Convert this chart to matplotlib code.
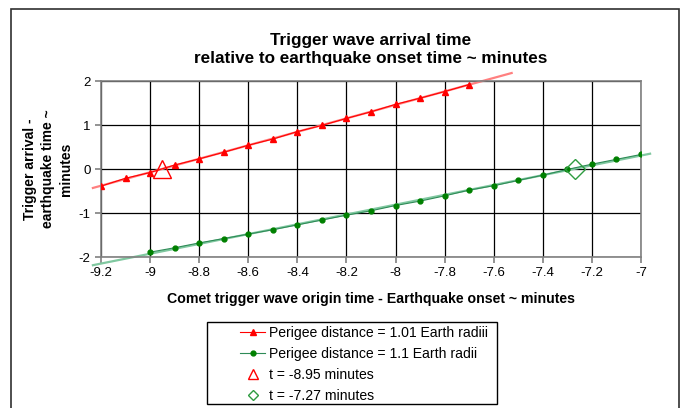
import matplotlib.pyplot as plt
import numpy as np
from matplotlib.patches import Rectangle
from matplotlib.lines import Line2D

plt.rcParams['font.family'] = ['Liberation Sans', 'DejaVu Sans']
plt.rcParams['axes.unicode_minus'] = False

x_red = [-9.2, -9.1, -9.0, -8.9, -8.8, -8.7, -8.6, -8.5, -8.4, -8.3, -8.2, -8.1,
         -8.0, -7.9, -7.8, -7.7]
y_red = [-0.39, -0.21, -0.08, 0.09, 0.23, 0.38, 0.54, 0.68, 0.85, 0.99, 1.15, 1.30,
         1.47, 1.61, 1.76, 1.92]

x_green = [-9.0, -8.9, -8.8, -8.7, -8.6, -8.5, -8.4, -8.3, -8.2, -8.1, -8.0, -7.9,
           -7.8, -7.7, -7.6, -7.5, -7.4, -7.3, -7.2, -7.1, -7.0]
y_green = [-1.89, -1.79, -1.68, -1.58, -1.48, -1.38, -1.27, -1.16, -1.05, -0.95,
           -0.83, -0.73, -0.61, -0.48, -0.38, -0.26, -0.14, -0.01, 0.11, 0.22, 0.33]

t_red = -8.95
t_green = -7.27

red_trend_range = [-9.233, -7.527]
green_trend_range = [-9.233, -6.963]

xticks = [-9.2, -9.0, -8.8, -8.6, -8.4, -8.2, -8.0, -7.8, -7.6, -7.4, -7.2, -7.0]
xtick_labels = ['-9.2', '-9', '-8.8', '-8.6', '-8.4', '-8.2', '-8', '-7.8', '-7.6',
                '-7.4', '-7.2', '-7']
yticks = [-2, -1, 0, 1, 2]

labels = ['Perigee distance = 1.01 Earth radiii', 'Perigee distance = 1.1 Earth radii',
          't = -8.95 minutes', 't = -7.27 minutes']

W, H = 683, 408
fig = plt.figure(figsize=(W / 100, H / 100), dpi=100)
fig.patches.append(Rectangle((11 / W, -0.01), (679 - 11) / W, 1 - 9 / H + 0.01,
                             transform=fig.transFigure, fill=False,
                             edgecolor='#303030', linewidth=1.2))

ax = fig.add_axes([101 / W, 1 - 257 / H, (641 - 101) / W, (257 - 81) / H])
ax.set_xlim(-9.2, -7.0)
ax.set_ylim(-2, 2)

# trend lines, drawn past the plot area like excel does
for xs, ys, rng, col in [(x_red, y_red, red_trend_range, '#ff8080'),
                         (x_green, y_green, green_trend_range, '#80c8a0')]:
    k, b = np.polyfit(xs, ys, 1)
    xr = np.array(rng)
    ax.plot(xr, k * xr + b, color=col, linewidth=1.6, clip_on=False, zorder=2)

ax.plot(x_red, y_red, color='red', linewidth=0.8, marker='^', markersize=5, zorder=3)
ax.plot(x_green, y_green, color='#2e8b57', linewidth=0.8, marker='o', markersize=3.5,
        markerfacecolor='green', markeredgecolor='green', zorder=3)
ax.plot([t_red], [0], linestyle='none', marker='^', markersize=13,
        markerfacecolor='none', markeredgecolor='red', markeredgewidth=1, zorder=4)
ax.plot([t_green], [0], linestyle='none', marker='D', markersize=10,
        markerfacecolor='none', markeredgecolor='#2e9b40', markeredgewidth=1, zorder=4)

ax.set_xticks(xticks)
ax.set_xticklabels(xtick_labels)
ax.set_yticks(yticks)
ax.grid(True, color='black', linewidth=0.9)
ax.set_axisbelow(True)
for s in ax.spines.values():
    s.set_color('#808080')
    s.set_linewidth(1.2)
ax.tick_params(labelsize=9.5, length=4, color='#808080', width=1.2)

ax.set_xlabel('Comet trigger wave origin time - Earthquake onset ~ minutes',
              fontsize=10.2, fontweight='bold', labelpad=9)
ax.set_ylabel('Trigger arrival -\nearthquake time ~\nminutes', fontsize=10,
              fontweight='bold', labelpad=4, linespacing=1.35)
ax.set_title('Trigger wave arrival time\nrelative to earthquake onset time ~ minutes',
             fontsize=12.3, fontweight='bold', pad=13, linespacing=1.25)

# legend handles are drawn smaller than the marks on the chart
handles = [
    Line2D([], [], color='red', linewidth=0.8, marker='^', markersize=5),
    Line2D([], [], color='#2e8b57', linewidth=0.8, marker='o', markersize=3.5,
           markerfacecolor='green', markeredgecolor='green'),
    Line2D([], [], linestyle='none', marker='^', markersize=7,
           markerfacecolor='none', markeredgecolor='red'),
    Line2D([], [], linestyle='none', marker='D', markersize=5.5,
           markerfacecolor='none', markeredgecolor='#2e9b40'),
]
leg = fig.legend(handles, labels, loc='upper left',
                 bbox_to_anchor=(240 / W, 1 - 326 / H),
                 frameon=False, fontsize=10.1, handlelength=1.8,
                 labelspacing=0.5, borderpad=0, handletextpad=0.3,
                 borderaxespad=0)
fig.patches.append(Rectangle((207 / W, 1 - 404 / H), (497 - 207) / W, (404 - 322) / H,
                             transform=fig.transFigure, fill=False,
                             edgecolor='black', linewidth=1))

fig.savefig('out.png', dpi=100)
